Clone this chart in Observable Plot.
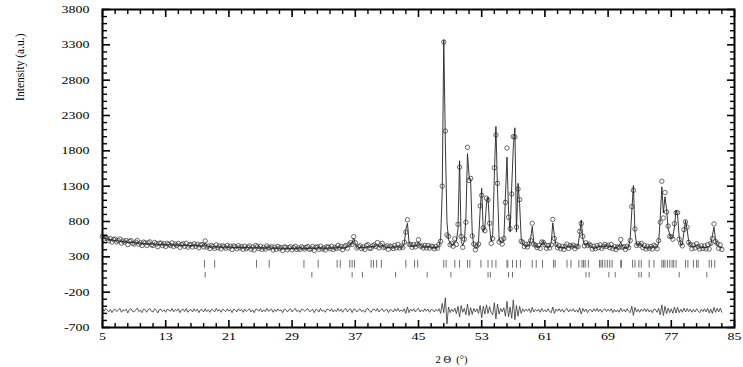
<!DOCTYPE html>
<html>
<head>
<meta charset="utf-8">
<script src="https://cdn.jsdelivr.net/npm/d3@7"></script>
<script src="https://cdn.jsdelivr.net/npm/@observablehq/plot@0.6"></script>
<style>
  html, body { margin: 0; padding: 0; background: #fff; }
  #chart { width: 743px; height: 367px; }
</style>
</head>
<body>
<div id="chart"></div>
<script>
// ---- data ----
const startAngle = 5.0;   // first 2θ of the step scan
const stepAngle = 0.2;    // scan step (°)

// calculated profile, one value per step from 5.0° to 83.4°
const calcIntensity = [
  565,560,556,551,547,543,539,535,531,528,
  525,522,519,516,513,511,508,506,504,502,
  500,498,496,494,492,490,488,487,485,484,
  482,481,480,479,478,477,476,475,474,473,
  472,471,470,469,468,467,466,466,465,465,
  464,463,463,462,462,461,460,460,459,459,
  458,458,457,457,460,500,452,443,442,441,
  440,440,439,439,438,438,437,437,436,436,
  435,435,434,434,433,433,432,432,431,431,
  430,430,429,429,428,428,427,440,428,426,
  426,425,425,424,424,438,424,423,422,422,
  422,421,421,421,420,420,420,420,419,419,
  419,419,419,419,419,430,422,419,419,419,
  420,420,420,426,420,421,430,427,421,421,
  422,422,423,423,423,424,424,424,434,432,
  436,428,426,427,430,442,462,475,505,565,
  485,445,434,432,431,432,431,440,442,433,
  446,441,449,456,472,446,451,466,445,436,
  436,436,437,437,437,438,438,446,440,440,
  446,482,690,775,510,455,445,448,460,462,
  512,472,443,440,438,436,441,446,436,434,
  433,432,432,450,560,1200,3370,1900,800,540,
  500,470,465,520,520,700,1660,520,460,520,
  850,1760,1450,1370,650,450,420,430,520,950,
  1270,650,720,1050,1144,720,520,620,1450,2145,
  1250,560,510,500,520,1150,1710,950,650,1300,
  1850,2126,650,1340,1050,560,480,460,455,450,
  460,560,730,500,450,440,440,445,480,520,
  460,440,435,440,500,780,600,460,440,432,
  430,430,430,435,450,440,445,455,440,435,
  440,470,620,820,560,470,480,490,470,445,
  430,425,425,430,445,450,445,440,450,460,
  445,440,450,445,430,425,430,460,510,450,
  428,425,425,440,560,950,1310,650,480,470,
  490,470,440,430,425,425,440,435,440,445,
  435,440,500,850,1290,920,1150,980,700,620,
  560,590,720,960,880,580,470,480,650,815,
  690,520,455,440,450,445,460,455,440,435,
  432,430,432,440,445,470,600,720,540,460,
  440,435,430
];

// observed minus calculated, same steps
const residual = [
  25,-10,30,5,-20,15,-30,10,20,-15,
  5,30,-25,10,-5,20,-35,15,25,-10,
  -20,10,35,-15,5,-30,20,10,-25,15,
  30,-10,-20,25,5,-35,15,20,-15,10,
  -25,20,5,-10,30,-20,15,-5,25,-30,
  10,20,-15,30,-25,5,15,-20,25,-10,
  20,-30,10,15,-20,25,-15,10,-25,20,
  5,-20,30,-10,15,-25,20,5,-15,25,
  -10,15,-30,20,10,-20,25,-5,15,-25,
  20,-15,5,25,-20,10,-30,20,15,-10,
  25,-20,10,-15,30,-10,5,20,-25,15,
  -15,25,-5,10,-30,20,15,-20,10,25,
  -20,10,30,-15,5,-25,20,10,-10,15,
  25,-15,-5,20,-30,15,10,-20,30,-10,
  5,-25,20,15,-10,25,-20,10,-15,30,
  -10,20,-25,15,30,-20,10,25,-30,20,
  15,-20,10,25,-15,5,-25,20,30,-10,
  -25,15,20,-10,30,-20,10,25,-15,5,
  20,-30,15,5,-20,25,-10,30,-15,10,
  -15,25,-40,50,-30,20,-10,25,-20,15,
  30,-20,10,-15,25,-10,20,-25,15,10,
  -20,15,-10,25,-40,100,-30,180,-190,50,
  -30,20,-15,35,-45,60,-90,70,-25,30,
  -60,90,-70,40,-55,30,-20,25,-40,70,
  -100,60,-50,80,-40,55,-30,-60,110,-120,
  90,-50,30,-20,40,-80,130,-90,50,-110,
  150,-130,70,-80,60,-40,25,-15,20,-10,
  25,-30,45,-20,15,-10,20,-25,30,-15,
  10,-20,25,-15,-30,50,-40,20,-10,25,
  -15,20,-25,10,30,-20,15,-10,25,-20,
  10,-25,40,-50,30,-15,20,-30,10,15,
  -20,25,-10,30,-15,20,-25,10,25,-15,
  20,-10,25,-30,15,-20,10,-25,35,-15,
  15,-20,25,-10,-30,60,-70,45,-20,15,
  -25,20,-10,30,-15,25,-20,10,-30,20,
  15,-25,30,-60,80,-70,60,-45,35,-30,
  25,-40,50,-35,45,-30,20,-25,35,-20,
  30,-15,20,-25,15,-20,25,-10,-30,20,
  -15,25,-20,30,-35,20,-40,45,-25,30,
  -20,35,-25
];

const diffOffset = -460;          // baseline of the difference curve

// Bragg reflection positions (2θ) for the two phases
const braggPhase1 = [17.9,19.2,24.5,26.1,30.5,32.3,34.7,35.1,36.3,36.6,36.9,39.0,39.3,39.7,40.3,
  43.4,44.5,44.9,48.2,48.5,49.6,50.2,51.2,51.5,52.9,53.8,54.3,54.8,56.2,56.3,56.9,57.4,57.9,
  59.4,59.9,60.7,62.1,62.3,63.8,64.3,65.3,65.7,65.9,66.1,66.5,67.9,68.1,68.3,68.6,68.9,69.2,69.5,
  70.6,70.7,72.1,72.4,72.9,73.2,74.2,74.8,75.8,76.0,76.2,76.5,76.8,77.1,77.3,77.6,78.8,79.1,
  79.8,80.2,80.4,81.8,82.1,82.5];
const braggPhase2 = [18.0,31.5,36.6,37.9,42.1,46.1,49.1,53.8,54.1,56.4,56.9,66.2,66.6,69.1,69.9,
  72.9,73.2,74.2,78.0,81.5];
const braggRow1 = [140, 250];     // intensity span of phase-1 tick row
const braggRow2 = [0, 80];        // intensity span of phase-2 tick row

const xTicks = [5,13,21,29,37,45,53,61,69,77,85];
const xMinorTicks = [6.6,8.2,9.8,11.4,14.6,16.2,17.8,19.4,22.6,24.2,25.8,27.4,30.6,32.2,33.8,35.4,
  38.6,40.2,41.8,43.4,46.6,48.2,49.8,51.4,54.6,56.2,57.8,59.4,62.6,64.2,65.8,67.4,70.6,72.2,73.8,75.4,
  78.6,80.2,81.8,83.4];
const yTicks = [-700,-200,300,800,1300,1800,2300,2800,3300,3800];
const yMinorTicks = d3.range(-700, 3801, 100).filter(v => !yTicks.includes(v));

const xTitle = "2 Θ  (°)";
const yTitle = "Intensity (a.u.)";

// ---- table built from the arrays ----
const scan = calcIntensity.map((c, i) => ({
  t: +(startAngle + i * stepAngle).toFixed(1),
  calc: c,
  obs: c + residual[i],
  diff: residual[i] + diffOffset
}));

const serif = "'Liberation Serif', 'DejaVu Serif', serif";

const chart = Plot.plot({
  width: 743,
  height: 367,
  marginTop: 9,
  marginBottom: 40,
  marginLeft: 102,
  marginRight: 9,
  style: { fontFamily: serif, fontSize: "10.5px", background: "#fff", color: "#000" },
  x: { domain: [5, 85] },
  y: { domain: [-700, 3800] },
  marks: [
    // Bragg reflection ticks
    Plot.ruleX(braggPhase1, { x: d => d, y1: braggRow1[0], y2: braggRow1[1], stroke: "#707070", strokeWidth: 1 }),
    Plot.ruleX(braggPhase2, { x: d => d, y1: braggRow2[0], y2: braggRow2[1], stroke: "#707070", strokeWidth: 1 }),
    // difference curve
    Plot.line(scan, { x: "t", y: "diff", stroke: "#333", strokeWidth: 0.8 }),
    // observed points
    Plot.dot(scan, { x: "t", y: "obs", r: 2.2, stroke: "#444", strokeWidth: 0.8, fill: "none" }),
    // calculated profile
    Plot.line(scan, { x: "t", y: "calc", stroke: "#222", strokeWidth: 0.9 }),
    // frame
    Plot.frame({ stroke: "#000", strokeWidth: 2 }),
    // inward ticks
    Plot.axisX(xTicks, { anchor: "bottom", tickSize: -7, strokeWidth: 1.6, fill: "none", label: null }),
    Plot.axisX(xMinorTicks, { anchor: "bottom", tickSize: -4, strokeWidth: 1.4, fill: "none", label: null }),
    Plot.axisX(xTicks, { anchor: "top", tickSize: -7, strokeWidth: 1.6, fill: "none", label: null }),
    Plot.axisX(xMinorTicks, { anchor: "top", tickSize: -4, strokeWidth: 1.4, fill: "none", label: null }),
    Plot.axisY(yTicks, { anchor: "left", tickSize: -8, strokeWidth: 1.6, fill: "none", label: null }),
    Plot.axisY(yMinorTicks, { anchor: "left", tickSize: -5, strokeWidth: 1.4, fill: "none", label: null }),
    Plot.axisY(yTicks, { anchor: "right", tickSize: -8, strokeWidth: 1.6, fill: "none", label: null }),
    Plot.axisY(yMinorTicks, { anchor: "right", tickSize: -5, strokeWidth: 1.4, fill: "none", label: null }),
    // tick labels
    Plot.axisX(xTicks, { anchor: "bottom", tickSize: 0, tickPadding: 5, label: null, tickFormat: d => String(d) }),
    Plot.axisY(yTicks, { anchor: "left", tickSize: 0, tickPadding: 13, label: null, tickFormat: d => String(d) }),
    // titles
    Plot.text([xTitle], { frameAnchor: "bottom", dx: 33, dy: 35, fontSize: 10.5, ariaLabel: "x-title" }),
    Plot.text([yTitle], { frameAnchor: "top-left", dx: -87, dy: 24, rotate: -90, textAnchor: "end", fontSize: 11.5 })
  ]
});

document.getElementById("chart").appendChild(chart);

// the reference lettering is wide and short: stretch horizontal labels
d3.select(chart)
  .selectAll('g[aria-label="y-axis tick label"] text, g[aria-label="x-axis tick label"] text, g[aria-label="x-title"] text')
  .each(function () {
    const len = this.getComputedTextLength();
    if (len > 0) {
      this.setAttribute("textLength", (len * 1.33).toFixed(1));
      this.setAttribute("lengthAdjust", "spacingAndGlyphs");
    }
  });
</script>
</body>
</html>
